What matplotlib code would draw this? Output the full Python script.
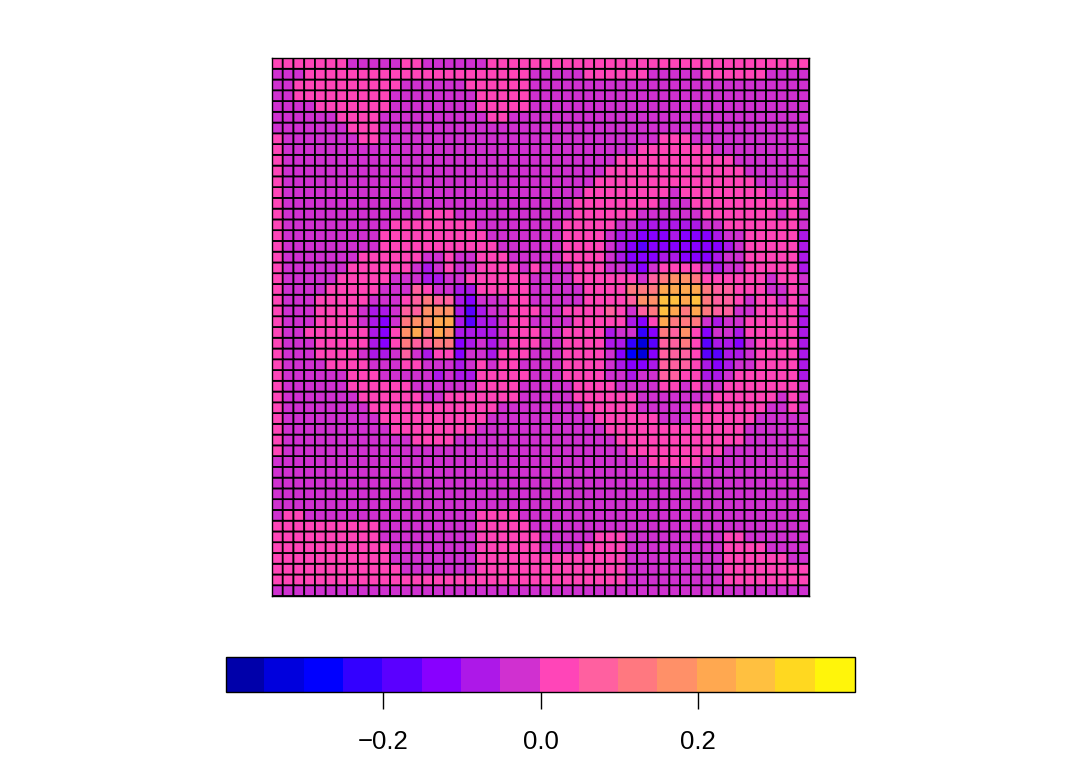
import numpy as np
import matplotlib
matplotlib.use("Agg")
import matplotlib.pyplot as plt
from matplotlib.colors import ListedColormap, BoundaryNorm

plt.rcParams['font.family'] = ['Liberation Sans', 'DejaVu Sans']

# Colour class (hex digit, one per cell, top row first)
rows = [
"8888888 77777 88 777777 88888|8888888888888888888888888",
"777 888888888888888888888 7|7777 888888 77777 888888 7777",
"77 8888888888 777777 888888 7|7777777777777777777777777",
"77 888888888 77777777 88888 7|7777777777777777777777777",
"7777 8888888 77777777 88888 7|7777777777777777777777777",
"777777 8888 7777777777 88 777|7777777777777777777777777",
"7777777 888 777777777777777|7777777777777777777777777",
"8 7777777 88 777777777777777|77777777777 888 77777777777",
"8 777777777777777777777777|777777777 8888888 777777777",
"8 777777777777777777777777|7777777 88888888888 7777777",
"8 777777777777777777777777|777777 8888888888888 777777",
"8 777777777777777777777777|77777 888888888888888 77777",
"8 777777777777777777777777|7777 88888888 7 88888888 77 8 7",
"8 777777777777777777777777|777 88888888 777 8888888888 7",
"8 7777777777777 888 77777777|777 888888 777777 8888888 7 8 7",
"8 7777777777 88888888 777777|77 88888 77 666666 77 8888888 7",
"8 777777777 8888888888 77777|77 8888 7 665556555677 88888 6",
"8 777777777 88888888888 7777|77 8888 7 654555555567 88888 6",
"8 7777777 888888 77 8 77 888 777|77 8888 7 655566555677 88888 6",
"8 777777 888888 7 6 7 8 77 8888 7 8|777 888 7 765788887677 88888 6",
"8 77777 88888 777 66 77 888888 7|777 888888 7 9 a b b a 88 888 8 7 8 8 7",
"8 7777 888 88777 98 77 66 888 88 7|7777 8888 aaacccca99888 7 7 8 7",
"8 777 8888 8777 89a99 6 5 777 887|7777 8888 9bbddcda9987 88 7 8 7",
"8 777 8888 7667 99bbb 6 4 6 77 888|77 8888 9 8 7 9 a dcaca 99 77 8888 6",
"8 777 8888 7657 abbcc 6 4 66 7 887|777 88888 658caaa7677 8 8888 6",
"8 77 8 8888 8658 bcacb 6666 7 888|77 8888 6773 5a9b8 5776 88888 6",
"8 777 8888 8658 a99aa 5 6 7 6 7 888|77 8888 6631 499a8 4665 7 8888 6",
"8 777 8888 7667 976 88 5 77 6 8 887|77 8888 7521 5999 8 4466 7 8888 6",
"8 7777 888 8777 88 777 6 7 8 7 88 77|77 8888 7655 6999 8 6567 7 8888 6",
"8 777777 888 77777 6 7 66 88888 7|77 8888 7767 7998 8 6678 8 8888 6",
"8 777777 888888 777777 8888 77|777 8888 7777 887877 8888888 7",
"8 7777777 888888 77 8888888 77|777 888888 7777777 888888 7 8 7",
"8 77777777 888888888888 7777|7777 88888 77777 8888888 77 8 7",
"8 777777777 8888888888 77777|77777 888888 777 888888 77777",
"8 7777777777 88888888 777777|777777 8888888888888 777777",
"8 777777777777 8888 77777777|7777777 888888888888 777777",
"8 777777777777777777777777|77777777 888888888 77777777",
"7777777777777777777777777|7777777777 88888 7777777777",
"7777777777777777777777777|7777777777777777777777777",
"7777777777777777777777777|7777777777777777777777777",
"7777777777777777777777777|7777777777777777777777777",
"7777777777777777777777777|7777777777777777777777777",
"7 88 7777777777777777 8888 77|7777777777777777777777777",
"8888888888 777777777 88888 7|7777777777777777777777777",
"8888888888 777777777 888888|77777 888 777777777 88 777777",
"88888888888 77777777 888888|7777 8888 777777777 8888 7777",
"88888888888 77777777 888888|88888888 777777777 888888 77",
"888888888888 7777777 888888|88888888 777777777 88888888",
"8888888888888888888888888|88888888 777777777 88888888",
"7777777777777777777777777|7777777777777777777777777",
]
class_colors = ["#0000AA", "#0000DD", "#0000FF", "#3300FF", "#5A00FF", "#8800FF",
                "#AD18E8", "#D030D0", "#FF45B8", "#FF60A0", "#FF7880", "#FF9068",
                "#FFA850", "#FFC040", "#FFD820", "#FFF50A"]
class_edges = [-0.40, -0.35, -0.30, -0.25, -0.20, -0.15, -0.10, -0.05, 0.0,
               0.05, 0.10, 0.15, 0.20, 0.25, 0.30, 0.35, 0.40]
tick_values = [-0.2, 0.0, 0.2]
tick_labels = ["\u22120.2", "0.0", "0.2"]

clean = [r.replace(" ", "").replace("|", "") for r in rows]
bad = [(i, len(r)) for i, r in enumerate(clean) if len(r) != 50]
assert not bad, bad
edges = np.array(class_edges)
mids = (edges[:-1] + edges[1:]) / 2
Z = np.array([[mids[int(c, 16)] for c in r] for r in clean])[::-1]

W, H = 1080, 759
fig = plt.figure(figsize=(W / 100, H / 100), dpi=100, facecolor="white")
ax = fig.add_axes([272 / W, 1 - 596 / H, 537 / W, 538 / H])
cmap = ListedColormap(class_colors)
norm = BoundaryNorm(class_edges, cmap.N)
x = np.linspace(0, 1, 51)
mesh = ax.pcolormesh(x, x, Z, cmap=cmap, norm=norm, edgecolors="black",
                     linewidth=1.25, antialiased=True)
mesh.set_snap(False)
ax.set_xlim(0, 1)
ax.set_ylim(0, 1)
ax.set_xticks([])
ax.set_yticks([])
for s in ax.spines.values():
    s.set_linewidth(1.0)

cax = fig.add_axes([226 / W, 1 - 692 / H, 629 / W, 35 / H])
cb = fig.colorbar(mesh, cax=cax, orientation="horizontal", spacing="proportional",
                  ticks=tick_values, drawedges=False)
cb.solids.set_edgecolor("face")
cb.outline.set_linewidth(1.0)
cb.minorticks_off()
cax.set_xticks(tick_values)
cax.set_xticklabels(tick_labels)
cax.tick_params(axis="x", length=12, width=1.0, pad=15.5, labelsize=18.5, color="black")
fig.savefig("out.png", dpi=100)
